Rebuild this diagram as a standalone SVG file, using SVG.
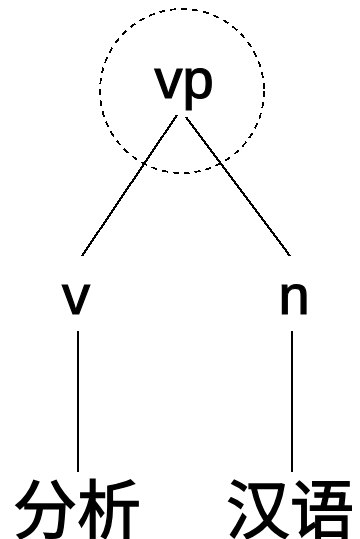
<svg xmlns="http://www.w3.org/2000/svg" width="360" height="539" viewBox="0 0 360 539">
<style>
.lbl{font-family:"Liberation Sans",Arial,sans-serif;font-size:56px;fill:#000;stroke:#000;stroke-width:1.2;text-anchor:middle}
.cjk{font-family:"Liberation Sans","Noto Sans CJK SC",sans-serif;font-size:64px;fill:#000;stroke:#000;stroke-width:1.4;text-anchor:middle}
.edge{stroke:#000;stroke-width:2.2;fill:none;shape-rendering:crispEdges}
</style>
<rect width="360" height="539" fill="#fff"/>
<g id="focus-circle">
<circle cx="182" cy="91" r="82" fill="none" stroke="#000" stroke-width="1.8" stroke-dasharray="6,5" shape-rendering="crispEdges"/>
</g>
<g id="connectors">
<line class="edge" x1="177" y1="115" x2="82" y2="256"/>
<line class="edge" x1="186" y1="117" x2="290" y2="256"/>
<line class="edge" x1="78" y1="331" x2="78" y2="472"/>
<line class="edge" x1="292" y1="331" x2="292" y2="472"/>
</g>
<g id="node-vp"><text class="lbl" x="184" y="98">vp</text></g>
<g id="node-v"><text class="lbl" x="76" y="314">v</text></g>
<g id="node-n"><text class="lbl" x="294" y="314">n</text></g>
<g id="node-fenxi"><text class="cjk" x="77" y="533">分析</text></g>
<g id="node-hanyu"><text class="cjk" x="290" y="533">汉语</text></g>
</svg>
